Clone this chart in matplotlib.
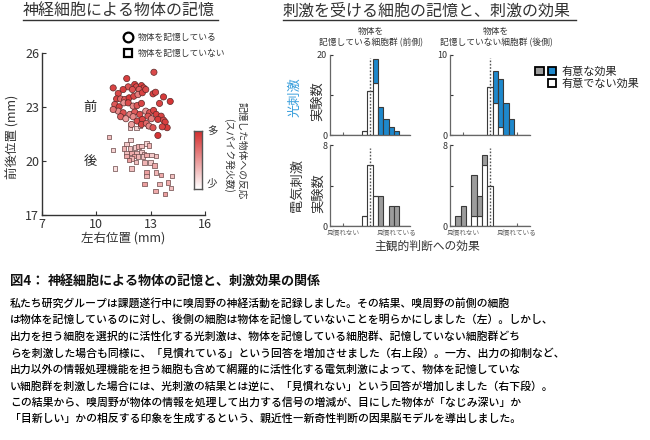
import numpy as np
import matplotlib
matplotlib.use("Agg")
import matplotlib.pyplot as plt
from matplotlib.colors import LinearSegmentedColormap
from matplotlib.patches import Rectangle

plt.rcParams['font.family'] = ['Noto Sans CJK JP', 'DejaVu Sans']

W, H = 650, 440

# ---------------- data ----------------
# Scatter: cells remembering the object (circles, anterior)
circ_x = [13.18, 11.68, 10.93, 11.76, 12.12, 12.21, 12.49, 12.62, 12.36, 11.99, 11.48, 11.21,
          11.12, 11.34, 11.57, 11.81, 12.07, 12.30, 12.54, 12.73, 11.02, 11.26, 11.52, 11.76,
          12.03, 12.25, 12.49, 13.13, 13.27, 13.71, 14.08, 13.49, 11.21, 11.48, 11.85, 12.12,
          12.40, 12.73, 12.94, 13.16, 13.31, 13.58, 11.34, 11.63, 12.03, 12.25, 12.54, 12.85,
          13.04, 13.40, 13.71, 12.49, 12.76, 12.91, 13.13, 13.80, 13.91, 13.40, 13.64, 10.93, 11.94]
circ_y = [24.93, 24.58, 24.06, 24.12, 24.25, 24.12, 24.19, 24.06, 23.97, 23.97, 23.97, 23.75,
          23.45, 23.45, 23.42, 23.51, 23.60, 23.69, 23.79, 23.97, 23.14, 23.01, 23.23, 23.23,
          23.05, 23.08, 23.20, 23.73, 23.82, 23.56, 23.31, 23.20, 22.77, 22.68, 22.59, 22.72,
          22.59, 22.77, 22.68, 22.81, 22.59, 22.49, 22.46, 22.35, 22.46, 22.22, 22.31, 22.49,
          22.35, 22.31, 22.27, 22.03, 22.09, 21.94, 21.85, 22.16, 21.85, 21.42, 21.90, 22.86, 22.03]
circ_v = [0.85, 0.90, 0.88, 0.80, 0.92, 0.85, 0.90, 0.88, 0.75, 0.82, 0.90, 0.85,
          0.88, 0.70, 0.80, 0.92, 0.86, 0.60, 0.88, 0.84, 0.78, 0.90, 0.50, 0.85,
          0.55, 0.80, 0.88, 0.90, 0.86, 0.92, 0.95, 0.88, 0.55, 0.82, 0.60, 0.78,
          0.85, 0.50, 0.80, 0.86, 0.90, 0.88, 0.75, 0.45, 0.55, 0.85, 0.88, 0.80,
          0.60, 0.92, 0.85, 0.88, 0.70, 0.55, 0.80, 0.90, 0.92, 0.95, 0.88, 0.65, 0.45]

# Scatter: cells not remembering the object (squares, posterior)
sq_x = [10.69, 10.93, 11.04, 11.66, 11.88, 11.52, 11.85, 12.14, 12.32, 12.49, 12.76, 12.91,
        11.66, 11.94, 12.21, 12.49, 12.62, 12.07, 12.30, 12.58, 12.76, 11.94, 12.18, 13.04,
        13.31, 11.66, 11.81, 12.67, 12.98, 11.94, 13.22, 12.76, 13.31, 13.58, 14.19, 12.76,
        13.95, 12.67, 13.49, 13.27, 14.13, 13.80, 12.21, 11.85, 12.40, 12.85]
sq_y = [21.33, 20.61, 19.58, 20.94, 21.17, 20.69, 20.69, 20.74, 20.80, 20.83, 20.98, 20.87,
        20.46, 20.43, 20.46, 20.50, 20.37, 20.28, 20.24, 20.24, 20.32, 20.13, 19.95, 20.32,
        20.28, 20.28, 20.06, 19.91, 19.91, 19.58, 19.76, 19.36, 19.36, 19.21, 19.17, 19.17,
        18.80, 18.71, 18.71, 18.32, 18.51, 18.18, 21.85, 21.85, 21.94, 21.94]
sq_v = [0.30, 0.20, 0.15, 0.25, 0.20, 0.35, 0.30, 0.25, 0.40, 0.30, 0.20, 0.35,
        0.30, 0.40, 0.35, 0.25, 0.30, 0.45, 0.35, 0.30, 0.40, 0.35, 0.30, 0.25,
        0.30, 0.40, 0.45, 0.35, 0.25, 0.30, 0.40, 0.45, 0.35, 0.40, 0.30, 0.35,
        0.40, 0.45, 0.35, 0.40, 0.30, 0.45, 0.20, 0.25, 0.15, 0.20]

# Histograms: bin index (effect on subjective judgement), non-significant / significant counts
bins = list(range(-7, 8))
opt_front_ns = [0, 0, 0, 0, 0, 0, 1, 11, 13, 0, 0, 0, 0, 0, 0]
opt_front_s  = [0, 0, 0, 0, 0, 0, 0, 0, 6, 7, 4, 2, 1, 0, 0]
opt_back_ns  = [0, 0, 0, 0, 0, 0, 0, 6, 4, 1, 0, 0, 0, 0, 0]
opt_back_s   = [0, 0, 0, 0, 0, 0, 0, 0, 4, 6, 4, 2, 0, 0, 0]
el_front_ns  = [0, 0, 0, 0, 0, 0, 1, 6, 3, 0, 0, 0, 0, 0, 0]
el_front_s   = [0, 0, 0, 0, 0, 0, 0, 0, 0, 3, 0, 2, 2, 0, 0]
el_back_ns   = [0, 0, 0, 0, 1, 1, 6, 4, 0, 0, 0, 0, 0, 0, 0]
el_back_s    = [0, 1, 2, 0, 4, 2, 1, 0, 0, 0, 0, 0, 0, 0, 0]

scatter_xticks = [7, 10, 13, 16]
scatter_yticks = [17, 20, 23, 26]
xtick_labels = ['見慣れない', '見慣れている']

body_lines = [
    "私たち研究グループは課題遂行中に嗅周野の神経活動を記録しました。その結果、嗅周野の前側の細胞",
    "は物体を記憶しているのに対し、後側の細胞は物体を記憶していないことを明らかにしました（左）。しかし、",
    "出力を担う細胞を選択的に活性化する光刺激は、物体を記憶している細胞群、記憶していない細胞群どち",
    "らを刺激した場合も同様に、「見慣れている」という回答を増加させました（右上段）。一方、出力の抑制など、",
    "出力以外の情報処理機能を担う細胞も含めて網羅的に活性化する電気刺激によって、物体を記憶していな",
    "い細胞群を刺激した場合には、光刺激の結果とは逆に、「見慣れない」という回答が増加しました（右下段）。",
    "この結果から、嗅周野が物体の情報を処理して出力する信号の増減が、目にした物体が「なじみ深い」か",
    "「目新しい」かの相反する印象を生成するという、親近性―新奇性判断の因果脳モデルを導出しました。",
]

# ---------------- figure ----------------
fig = plt.figure(figsize=(6.5, 4.4), dpi=100)


def rect(l, t, r, b):
    return [l / W, 1 - b / H, (r - l) / W, (b - t) / H]


ov = fig.add_axes([0, 0, 1, 1])
ov.set_xlim(0, W)
ov.set_ylim(H, 0)
ov.axis('off')

TXT = '#333333'
cmap = LinearSegmentedColormap.from_list('wr', ['#ffffff', '#d42a2a'])

# ---- scatter ----
ax = fig.add_axes(rect(42, 53, 205, 215))
ax.scatter(sq_x, sq_y, c=sq_v, cmap=cmap, vmin=0, vmax=1, marker='s', s=10,
           edgecolors='#6a4848', linewidths=0.5, zorder=3)
ax.scatter(circ_x, circ_y, c=circ_v, cmap=cmap, vmin=0, vmax=1, marker='o', s=20,
           edgecolors='#5a2828', linewidths=0.5, zorder=4)
ax.set_xlim(7, 16)
ax.set_ylim(17, 26)
ax.set_xticks(scatter_xticks)
ax.set_yticks(scatter_yticks)
for s in ['top', 'right']:
    ax.spines[s].set_visible(False)
for s in ['left', 'bottom']:
    ax.spines[s].set_color(TXT)
    ax.spines[s].set_linewidth(1.0)
ax.tick_params(direction='in', length=3, labelsize=9, colors=TXT, pad=2)
ax.patch.set_alpha(0)

ov.text(123, 238, '左右位置 (mm)', fontsize=9, ha='center', va='center', color=TXT)
ov.text(13, 137, '前後位置 (mm)', fontsize=9, ha='center', va='center', color=TXT, rotation=90)
ov.text(90, 107, '前', fontsize=9.5, ha='center', va='center', color='#222222')
ov.text(90, 162, '後', fontsize=9.5, ha='center', va='center', color='#222222')

# scatter legend keys
ov.plot([128], [37], marker='o', ms=7, mfc='white', mec='black', mew=1.6)
ov.plot([128], [53], marker='s', ms=6, mfc='white', mec='black', mew=1.6)
ov.text(138, 37, '物体を記憶している', fontsize=6.3, va='center', color=TXT)
ov.text(138, 53, '物体を記憶していない', fontsize=6.3, va='center', color=TXT)

# colorbar
cax = fig.add_axes(rect(194, 131, 202, 189))
grad = np.linspace(1, 0, 100).reshape(-1, 1)
cax.imshow(grad, aspect='auto', cmap=cmap, vmin=0, vmax=1)
cax.set_xticks([])
cax.set_yticks([])
for s in cax.spines.values():
    s.set_color('#555555')
    s.set_linewidth(1.0)
ov.text(207, 132, '多', fontsize=7.5, va='center', ha='left', color=TXT)
ov.text(207, 184, '少', fontsize=7.5, va='center', ha='left', color=TXT)
ov.text(242, 151, '記憶した物体への反応', fontsize=7, rotation=270, ha='center', va='center', color=TXT)
ov.text(229, 155, '(スパイク発火数)', fontsize=7, rotation=270, ha='center', va='center', color=TXT)

# titles
ov.text(23, 11, '神経細胞による物体の記憶', fontsize=11.5, ha='left', va='center', color=TXT)
ov.plot([23, 218], [20, 20], color=TXT, lw=1)
ov.text(283, 11, '刺激を受ける細胞の記憶と、刺激の効果', fontsize=11.5, ha='left', va='center', color=TXT)
ov.plot([283, 576], [20, 20], color=TXT, lw=1)

# ---- histograms ----
GRAY = '#9c9c9c'
BLUE = '#1e88cc'
EDGE = '#3a3a3a'


def hist_panel(box, xs, ns, sg, sig_color, ymax, bottom_labels):
    a = fig.add_axes(rect(*box))
    a.bar(xs, ns, width=1.0, color='white', edgecolor=EDGE, linewidth=0.8, zorder=2)
    a.bar(xs, sg, width=1.0, bottom=ns, color=sig_color, edgecolor=EDGE, linewidth=0.8, zorder=2)
    a.axvline(0, ymin=0, ymax=0.96, color='#555555', linestyle=(0, (1.2, 1.2)), lw=1.0, zorder=3)
    a.set_xlim(-7.5, 7.5)
    a.set_ylim(0, ymax)
    a.set_yticks([0, ymax / 2, ymax])
    a.set_yticklabels(['0', '', str(ymax)])
    a.set_xticks([-5, 5])
    if bottom_labels:
        a.set_xticklabels(xtick_labels, fontsize=4.8, color='#444444')
    else:
        a.set_xticklabels(['', ''])
    for s in ['top', 'right']:
        a.spines[s].set_visible(False)
    for s in ['left', 'bottom']:
        a.spines[s].set_color('#666666')
        a.spines[s].set_linewidth(0.9)
    a.tick_params(axis='y', direction='in', length=2, labelsize=6.5, colors=TXT, pad=2)
    a.tick_params(axis='x', direction='in', length=2, colors='#666666', pad=2)
    a.patch.set_alpha(0)
    return a


hist_panel((330, 55, 410, 135), bins, opt_front_ns, opt_front_s, BLUE, 20, False)
hist_panel((450, 55, 530, 135), bins, opt_back_ns, opt_back_s, BLUE, 10, False)
hist_panel((330, 145, 410, 226), bins, el_front_ns, el_front_s, GRAY, 8, True)
hist_panel((450, 145, 530, 226), bins, el_back_ns, el_back_s, GRAY, 8, True)

ov.text(371, 31, '物体を', fontsize=6.3, ha='center', va='center', color=TXT)
ov.text(371, 43, '記憶している細胞群 (前側)', fontsize=6.3, ha='center', va='center', color=TXT)
ov.text(496, 31, '物体を', fontsize=6.3, ha='center', va='center', color=TXT)
ov.text(496, 43, '記憶していない細胞群 (後側)', fontsize=6.3, ha='center', va='center', color=TXT)

ov.text(295, 97, '光刺激', fontsize=9.5, rotation=90, ha='center', va='center', color='#3a9fdc')
ov.text(317, 101, '実験数', fontsize=9.5, rotation=90, ha='center', va='center', color=TXT)
ov.text(297, 185, '電気刺激', fontsize=9.5, rotation=90, ha='center', va='center', color=TXT)
ov.text(318, 193, '実験数', fontsize=9.5, rotation=90, ha='center', va='center', color=TXT)

ov.text(427, 246, '主観的判断への効果', fontsize=8.5, ha='center', va='center', color=TXT)

# histogram legend
ov.add_patch(Rectangle((535, 67), 8.5, 8.5, facecolor=GRAY, edgecolor='black', lw=1.3))
ov.add_patch(Rectangle((547.5, 67), 8.5, 8.5, facecolor=BLUE, edgecolor='black', lw=1.3))
ov.add_patch(Rectangle((547.5, 79), 8.5, 8.5, facecolor='white', edgecolor='black', lw=1.3))
ov.text(561, 71.5, '有意な効果', fontsize=8, va='center', ha='left', color='#222222')
ov.text(561, 83.5, '有意でない効果', fontsize=8, va='center', ha='left', color='#222222')

# ---- caption and body ----
ov.text(10, 281, '図4：', fontsize=9.6, fontweight='bold', ha='left', va='center', color='#111111')
ov.text(48, 281, '神経細胞による物体の記憶と、刺激効果の関係', fontsize=9.4, fontweight='bold',
        ha='left', va='center', color='#111111')
for i, line in enumerate(body_lines):
    ov.text(10, 303.5 + 16.5 * i, line, fontsize=7.8, fontweight='medium',
            ha='left', va='center', color='black')

fig.savefig('out.png', dpi=100)
